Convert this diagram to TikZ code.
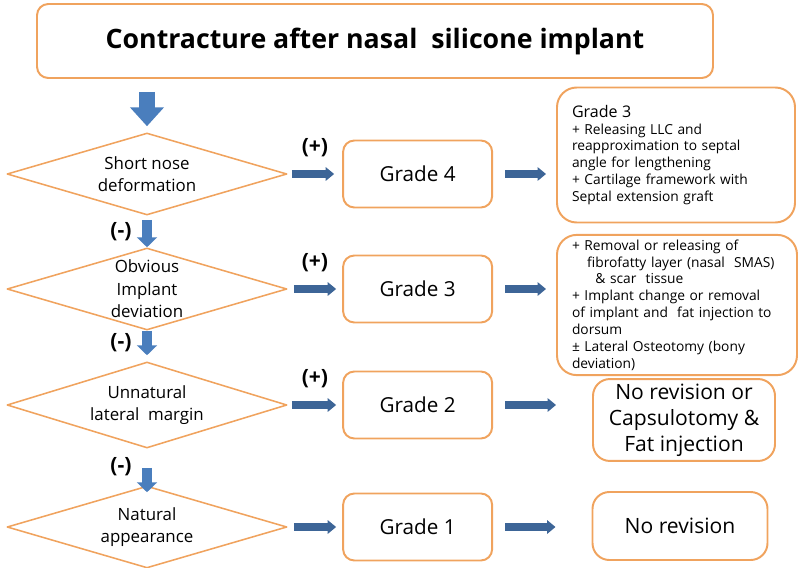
\documentclass[tikz,border=0pt]{standalone}
\usepackage{fontspec}
\setmainfont{Open Sans}
\usepackage{tikz}
\usetikzlibrary{arrows.meta,shapes.geometric,positioning}
\definecolor{boxorange}{HTML}{F0A35E}
\definecolor{arrblue}{HTML}{4A7EBD}
\definecolor{arrnavy}{HTML}{3D6597}
\tikzset{
  every picture/.style={line join=round, >=Stealth},
  decision/.style={diamond, draw=boxorange, line width=1.1pt, fill=white, minimum width=7cm, minimum height=2.05cm, inner sep=0pt, aspect=3.4, align=center, font=\fontsize{12}{16}\selectfont},
  grade/.style={rectangle, rounded corners=8pt, draw=boxorange, line width=1.4pt, minimum width=3.725cm, minimum height=1.675cm, font=\fontsize{14.7}{18}\selectfont},
  plan/.style={rectangle, rounded corners=14pt, draw=boxorange, line width=1.4pt, inner xsep=0.375cm, text width=5.2cm, align=left, font=\fontsize{9.8}{12}\selectfont},
  outcome/.style={rectangle, rounded corners=12pt, draw=boxorange, line width=1.4pt, align=center, font=\fontsize{15}{18.5}\selectfont},
  bigarr/.style={draw=arrblue, line width=12pt, -{Triangle[width=23.5pt,length=13.5pt]}},
  downarr/.style={draw=arrblue, line width=7.5pt, -{Triangle[width=14pt,length=7pt]}},
  sidearr/.style={draw=arrnavy, line width=5pt, -{Triangle[width=9.5pt,length=6pt]}},
  sign/.style={inner sep=1pt, font=\fontsize{15}{15}\selectfont\bfseries},
}

\begin{document}
\begin{tikzpicture}
\useasboundingbox (0,0) rectangle (20,-14.2);
\node[rectangle, rounded corners=8pt, draw=boxorange, line width=1.4pt, minimum width=16.9cm, minimum height=1.85cm, font=\fontsize{19}{19}\selectfont\bfseries] (title) at (9.375,-1.025) {Contracture after nasal\ \ silicone implant};

\node[decision] (d1) at (3.675,-4.35) {Short nose\\deformation};
\node[decision] (d2) at (3.675,-7.225) {Obvious\\Implant\\deviation};
\node[decision, minimum height=2.15cm] (d3) at (3.675,-10.125) {Unnatural\\lateral\ \ margin};
\node[decision] (d4) at (3.675,-13.175) {Natural\\appearance};

\node[grade] (g4) at (10.44,-4.35) {Grade 4};
\node[grade] (g3) at (10.44,-7.225) {Grade 3};
\node[grade] (g2) at (10.44,-10.125) {Grade 2};
\node[grade] (g1) at (10.44,-13.175) {Grade 1};

\node[plan, minimum height=3.375cm] (r1) at (16.9,-3.875) {{\fontsize{11.4}{14}\selectfont Grade 3}\\+ Releasing LLC and\\reapproximation to septal\\angle for lengthening\\+ Cartilage framework with\\Septal extension graft};
\node[plan, minimum height=3.5cm, text width=5.25cm] (r2) at (16.925,-7.625) {+ Removal or releasing of\\\hspace*{1.1em}fibrofatty layer (nasal\ \ SMAS)\\\hspace*{1.7em}\& scar\ \ tissue\\+ Implant change or removal\\of implant and\ \ fat injection to\\dorsum\\± Lateral Osteotomy (bony\\deviation)};
\node[outcome, minimum width=4.55cm, minimum height=1.875cm] (r3) at (17.1,-10.5) {No revision or\\Capsulotomy \&\\Fat injection};
\node[outcome, minimum width=4.375cm, minimum height=1.7cm] (r4) at (17.0,-13.15) {No revision};

\draw[bigarr, shorten <=0.325cm, shorten >=0.15cm] (title.south -| d1.north) -- (d1.north);
\draw[downarr, shorten <=0.1cm] (d1.south) -- node[sign, midway, left=0.22cm] {(-)} (d2.north);
\draw[downarr, shorten >=0.15cm] (d2.south) -- node[sign, pos=0.4, left=0.22cm] {(-)} (d3.north);
\draw[downarr, shorten <=0.475cm, shorten >=-0.175cm] (d3.south) -- node[sign, midway, left=0.22cm] {(-)} (d4.north);

\draw[sidearr, shorten <=0.1cm, shorten >=0.2cm] (d1.east) -- node[sign, midway, above=0.3cm] {(+)} (g4.west);
\draw[sidearr, shorten <=0.15cm, shorten >=0.15cm] (d2.east) -- node[sign, midway, above=0.3cm] {(+)} (g3.west);
\draw[sidearr, shorten <=0.1cm, shorten >=0.15cm] (d3.east) -- node[sign, midway, above=0.3cm] {(+)} (g2.west);
\draw[sidearr, shorten <=0.15cm, shorten >=0.15cm] (d4.east) -- (g1.west);

\draw[sidearr, shorten <=0.3cm, shorten >=0.25cm] (g4.east) -- (g4.east -| r1.west);
\draw[sidearr, shorten <=0.3cm, shorten >=0.25cm] (g3.east) -- (g3.east -| r2.west);
\draw[sidearr, shorten <=0.3cm, shorten >=0.9cm] (g2.east) -- (g2.east -| r3.west);
\draw[sidearr, shorten <=0.3cm, shorten >=0.9cm] (g1.east) -- (g1.east -| r4.west);
\end{tikzpicture}
\end{document}
